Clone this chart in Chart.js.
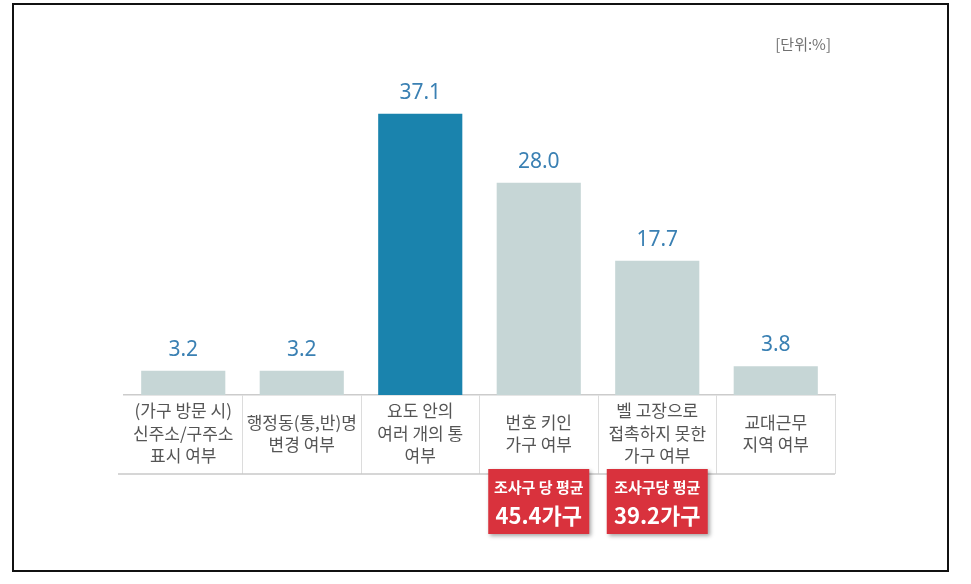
<!DOCTYPE html>
<html>
<head>
<meta charset="utf-8">
<script src="https://cdn.jsdelivr.net/npm/chart.js@4"></script>
<style>
  html, body { margin: 0; padding: 0; background: #fff; }
  #wrap { position: relative; width: 971px; height: 584px; }
  #frame { position: absolute; left: 12px; top: 3px; width: 933px; height: 565px; border: 2px solid #111; pointer-events: none; }
</style>
</head>
<body>
<div id="wrap">
  <canvas id="chart" width="971" height="584"></canvas>
  <div id="frame"></div>
</div>
<script>
const categories = [
  ["(가구 방문 시)", "신주소/구주소", "표시 여부"],
  ["행정동(통,반)명", "변경 여부"],
  ["요도 안의", "여러 개의 통", "여부"],
  ["번호 키인", "가구 여부"],
  ["벨 고장으로", "접촉하지 못한", "가구 여부"],
  ["교대근무", "지역 여부"]
];
const values = [3.2, 3.2, 37.1, 28.0, 17.7, 3.8];
const highlightIndex = 2;
const noteIndex = [3, 4];
const noteTitles = ["조사구 당 평균", "조사구당 평균"];
const noteValues = ["45.4가구", "39.2가구"];
const unitLabel = "[단위:%]";

const TICK_LEN = 79;

const labelPlugin = {
  id: "extras",
  afterDatasetsDraw(chart) {
    const ctx = chart.ctx;
    const meta = chart.getDatasetMeta(0);
    const area = chart.chartArea;
    const x = chart.scales.x;

    ctx.save();
    // values above bars
    ctx.fillStyle = "#3a80b3";
    ctx.font = "21px 'Noto Sans', sans-serif";
    ctx.textAlign = "center";
    ctx.textBaseline = "middle";
    meta.data.forEach((bar, i) => {
      ctx.fillText(values[i].toFixed(1), bar.x, bar.y - 21);
    });

    // bottom line of the label band
    ctx.strokeStyle = "#c8c8c8";
    ctx.lineWidth = 1.5;
    ctx.beginPath();
    ctx.moveTo(area.left - 6, x.top + TICK_LEN);
    ctx.lineTo(area.right, x.top + TICK_LEN);
    ctx.stroke();

    // unit
    ctx.fillStyle = "#707070";
    ctx.font = "15px 'Noto Sans CJK KR', sans-serif";
    ctx.textAlign = "right";
    ctx.fillText(unitLabel, area.right - 4, 44);

    // red notes
    noteIndex.forEach((idx, k) => {
      const cx = x.getPixelForValue(idx);
      const top = x.top + TICK_LEN - 5;
      const w = 101, h = 65;
      ctx.shadowColor = "rgba(0,0,0,0.35)";
      ctx.shadowBlur = 4;
      ctx.shadowOffsetX = 2;
      ctx.shadowOffsetY = 2;
      ctx.fillStyle = "#d9323d";
      ctx.fillRect(cx - w / 2, top, w, h);
      ctx.shadowColor = "transparent";
      ctx.fillStyle = "#fff";
      ctx.textAlign = "center";
      ctx.font = "bold 15px 'Noto Sans CJK KR', sans-serif";
      ctx.fillText(noteTitles[k], cx, top + 18);
      ctx.font = "bold 22px 'Noto Sans CJK KR', sans-serif";
      ctx.fillText(noteValues[k], cx, top + 47);
    });
    ctx.restore();
  }
};

new Chart(document.getElementById("chart"), {
  type: "bar",
  data: {
    labels: categories,
    datasets: [{
      data: values,
      backgroundColor: values.map((v, i) => i === highlightIndex ? "#1a83ad" : "#c6d6d6"),
      barPercentage: 0.71,
      categoryPercentage: 1.0
    }]
  },
  options: {
    responsive: false,
    animation: false,
    layout: { padding: { left: 124, right: 136, top: 54, bottom: 110 } },
    plugins: {
      legend: { display: false },
      tooltip: { enabled: false }
    },
    scales: {
      x: {
        afterFit(scale) { scale.height = TICK_LEN; },
        grid: {
          offset: true,
          drawOnChartArea: false,
          drawTicks: true,
          tickLength: TICK_LEN,
          color: ctx => (ctx.index === 0 || ctx.index === categories.length) ? "rgba(0,0,0,0)" : "#dcdcdc",
          lineWidth: 1
        },
        border: { display: true, color: "#cccccc", width: 1.5 },
        ticks: {
          color: "#555",
          font: { family: "'Noto Sans CJK KR', sans-serif", size: 17, lineHeight: 1.32 },
          padding: -63,
          crossAlign: "center",
          maxRotation: 0,
          autoSkip: false
        }
      },
      y: {
        display: false,
        min: 0,
        max: 45
      }
    }
  },
  plugins: [labelPlugin]
});
</script>
</body>
</html>
